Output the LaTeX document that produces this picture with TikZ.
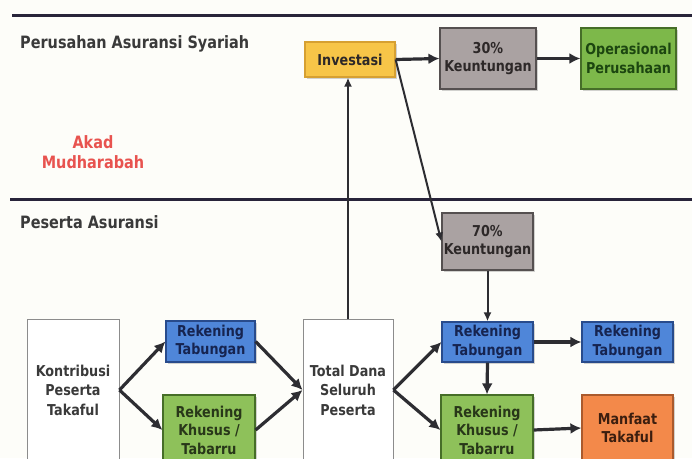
\documentclass[tikz,border=0pt]{standalone}
\usepackage{fontspec}
\setmainfont{DejaVu Sans}[FakeStretch=0.85]
\usetikzlibrary{arrows.meta,shadows}
\definecolor{bgc}{RGB}{253,253,249}
\definecolor{linec}{RGB}{40,36,58}
\definecolor{labc}{RGB}{58,58,58}
\definecolor{redc}{RGB}{232,83,79}
\definecolor{arrc}{RGB}{45,45,50}
\definecolor{invf}{RGB}{247,197,72}
\definecolor{invd}{RGB}{214,160,50}
\definecolor{grayf}{RGB}{170,162,162}
\definecolor{grayd}{RGB}{85,80,80}
\definecolor{gtxt}{RGB}{45,40,40}
\definecolor{greenf}{RGB}{125,184,74}
\definecolor{greend}{RGB}{70,110,40}
\definecolor{greentxt}{RGB}{28,70,16}
\definecolor{lgreenf}{RGB}{142,193,90}
\definecolor{lgreentxt}{RGB}{40,55,25}
\definecolor{bluef}{RGB}{79,134,217}
\definecolor{blued}{RGB}{40,75,140}
\definecolor{bluetxt}{RGB}{22,36,80}
\definecolor{oranf}{RGB}{243,137,74}
\definecolor{orand}{RGB}{170,90,45}
\definecolor{orantxt}{RGB}{60,30,15}
\definecolor{whited}{RGB}{140,140,140}
\tikzset{
  box/.style={draw, line width=1.2pt, align=center, inner sep=1pt,
    font=\fontsize{15}{18.5}\selectfont\bfseries,
    drop shadow={opacity=0.35, shadow xshift=1.5pt, shadow yshift=-1.5pt}},
  wbox/.style={draw=whited, line width=0.9pt, fill=white, align=center, inner sep=1pt,
    font=\fontsize{15}{19.5}\selectfont\bfseries, text=labc},
  lab/.style={font=\fontsize{17}{19.5}\selectfont\bfseries, text=labc, inner sep=0pt},
  thick arr/.style={draw=arrc, line width=3.2pt, -{Latex[length=11pt,width=11pt]}},
  thin arr/.style={draw=arrc, line width=2pt, -{Latex[length=9pt,width=8pt]}},
  sep line/.style={draw=linec, line width=3pt}
}
\begin{document}
\begin{tikzpicture}[x=1pt,y=-1pt]
\useasboundingbox (0,0) rectangle (692,458);
\clip (0,0) rectangle (692,458);
\fill[bgc] (0,0) rectangle (692,458);

% separator lines
\draw[sep line] (12,15) -- (692,15);
\draw[sep line] (10,199) -- (692,199);

% labels
\node[lab, anchor=base west] (perusahaan) at (20,48) {Perusahan Asuransi Syariah};
\node[lab, anchor=base west] (peserta) at (20,228) {Peserta Asuransi};
\node[lab, text=redc, align=center] (akad) at (93,152) {Akad\\Mudharabah};

% top row
\node[box, fill=invf, draw=invd, text=gtxt, minimum width=90pt, minimum height=35pt] (inv) at (350,59.5) {Investasi};
\node[box, fill=grayf, draw=grayd, text=gtxt, minimum width=96pt, minimum height=61pt] (k30) at (488,58.5) {30\%\\Keuntungan};
\node[box, fill=greenf, draw=greend, text=greentxt, minimum width=95pt, minimum height=61pt] (oper) at (628.5,58.5) {Operasional\\Perusahaan};
\node[box, fill=grayf, draw=grayd, text=gtxt, minimum width=91pt, minimum height=57pt] (k70) at (487.5,241.5) {70\%\\Keuntungan};

% bottom row
\node[wbox, minimum width=92pt, minimum height=142pt] (kon) at (73,390) {Kontribusi\\Peserta\\Takaful};
\node[box, fill=bluef, draw=blued, text=bluetxt, minimum width=89pt, minimum height=41pt] (rt1) at (210.5,341.5) {Rekening\\Tabungan};
\node[box, fill=lgreenf, draw=greend, text=lgreentxt, minimum width=92pt, minimum height=70pt] (rk1) at (209,430) {Rekening\\Khusus /\\Tabarru};
\node[wbox, minimum width=90pt, minimum height=142pt] (td) at (348,390) {Total Dana\\Seluruh\\Peserta};
\node[box, fill=bluef, draw=blued, text=bluetxt, minimum width=91pt, minimum height=40pt] (rt2) at (487.5,342) {Rekening\\Tabungan};
\node[box, fill=lgreenf, draw=greend, text=lgreentxt, minimum width=92pt, minimum height=70pt] (rk2) at (487,430) {Rekening\\Khusus /\\Tabarru};
\node[box, fill=bluef, draw=blued, text=bluetxt, minimum width=91pt, minimum height=40pt] (rt3) at (627.5,342) {Rekening\\Tabungan};
\node[box, fill=oranf, draw=orand, text=orantxt, minimum width=91pt, minimum height=66pt] (man) at (627.5,428) {Manfaat\\Takaful};

% connectors
\draw[thick arr] (inv.east) -- (k30.west);
\draw[thick arr] (k30.east) -- (oper.west);
\draw[thin arr] (inv.east) -- (k70.west);
\draw[thin arr] (td.north) -- (td.north |- inv.south);
\draw[thin arr] (k70.south) -- (rt2.north);

\draw[thick arr] (kon.east) -- (rt1.west);
\draw[thick arr] (kon.east) -- (rk1.west);
\draw[thick arr] (rt1.east) -- (td.west);
\draw[thick arr] (rk1.east) -- (td.west);
\draw[thick arr] (td.east) -- (rt2.west);
\draw[thick arr] (td.east) -- (rk2.west);
\draw[thick arr] (rt2.east) -- (rt3.west);
\draw[thick arr] (rt2.south) -- (rk2.north);
\draw[thick arr] (rk2.east) -- (man.west);
\end{tikzpicture}
\end{document}
